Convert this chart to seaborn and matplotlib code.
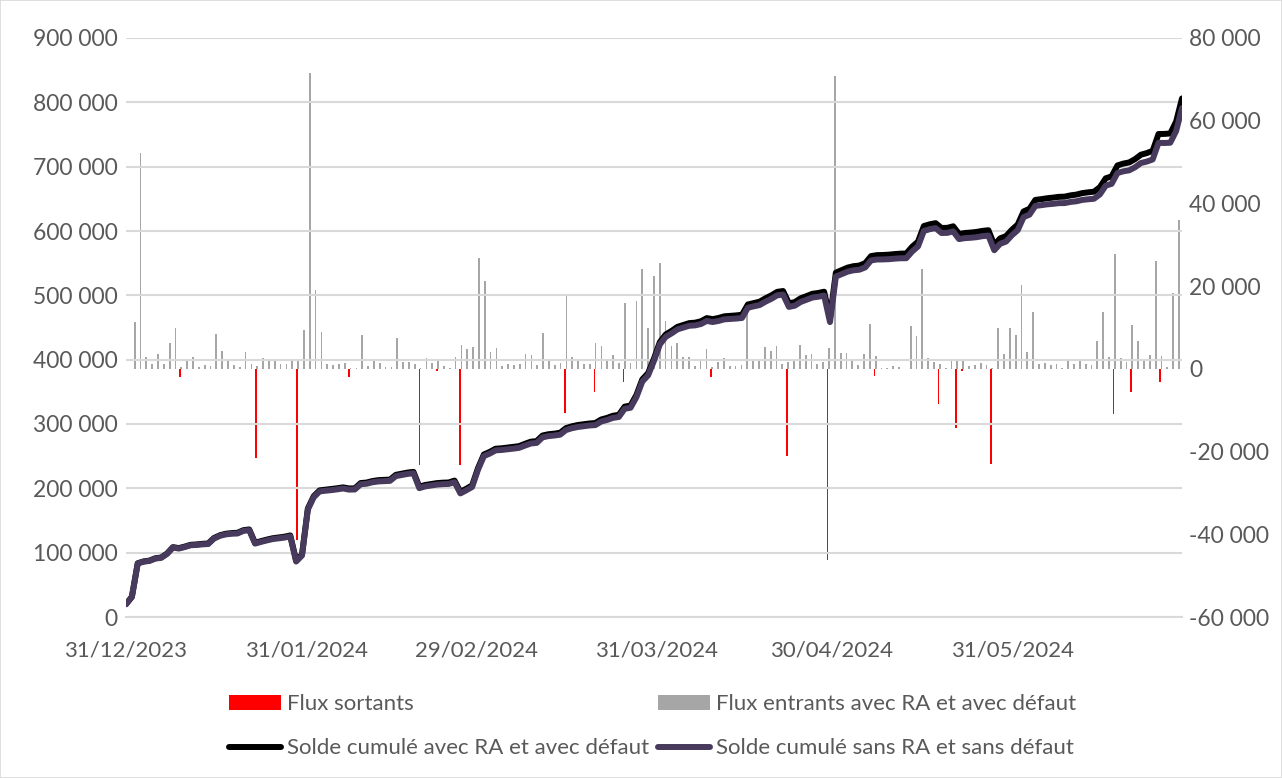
import numpy as np
import pandas as pd
import matplotlib
matplotlib.use("Agg")
import matplotlib.pyplot as plt
from matplotlib.ticker import FuncFormatter, MultipleLocator
from matplotlib.patches import Patch, Rectangle
from matplotlib.lines import Line2D
import seaborn as sns

# ---- data ----
start = pd.Timestamp("2023-12-31")
end = pd.Timestamp("2024-06-29")
flow_dates = pd.date_range("2024-01-01", "2024-06-28")   # one bar per day

entrants = [11440, 52150, 2820, 1290, 3550, 1290, 6170, 9870, 400, 2300,
            2860, 560, 930, 600, 8460, 4230, 2380, 970, 480, 4030,
            1210, 730, 2580, 2420, 2100, 1210, 1210, 1930, 2180, 9430,
            71600, 19100, 9030, 1130, 970, 1210, 1370, 320, 160, 8180,
            800, 2340, 1370, 560, 400, 7410, 1770, 1690, 1130, 160,
            2740, 1370, 2015, 645, 320, 2900, 5800, 4800, 5360, 26800,
            21150, 3990, 5000, 645, 1130, 1050, 1210, 3550, 3390, 890,
            8700, 1930, 890, 1450, 17800, 2820, 2015, 1130, 1210, 6290,
            5560, 2420, 3390, 1370, 16030, 1520, 16500, 24250, 9910, 22560,
            25560, 11680, 5500, 6210, 2820, 2820, 645, 2180, 4760, 400,
            1690, 2580, 645, 645, 890, 15880, 2180, 2015, 5240, 4430,
            5480, 1210, 1690, 1930, 5880, 3300, 3550, 1290, 1770, 5080,
            70700, 3790, 3790, 2015, 890, 3550, 10880, 3140, 160, 320,
            800, 560, 80, 10320, 7900, 24100, 2740, 1690, 1130, 160,
            2340, 2340, 2015, 645, 970, 1530, 970, 320, 9910, 3550,
            9830, 8140, 20300, 4110, 13700, 1210, 1370, 970, 1130, 320,
            1930, 1130, 2260, 1210, 970, 6770, 13700, 2820, 27800, 2740,
            1610, 10560, 6770, 2340, 3390, 26000, 3060, 560, 18300, 35900]

sortants_dates = pd.to_datetime([
    "2024-01-09", "2024-01-22", "2024-01-29", "2024-02-07", "2024-02-19",
    "2024-02-22", "2024-02-26", "2024-03-15", "2024-03-20", "2024-03-25",
    "2024-04-09", "2024-04-22", "2024-04-29", "2024-05-07", "2024-05-18",
    "2024-05-21", "2024-05-22", "2024-05-27", "2024-06-17", "2024-06-20",
    "2024-06-25"])
sortants = [-1900, -21500, -41300, -2000, -23300, -500, -23300, -10600, -5600, -3200,
            -2000, -21000, -46300, -1800, -8600, -14300, -500, -23000, -11000, -5600,
            -3200]

# cumulative balances, 31/12/2023 .. 28/06/2024
solde_avec = [20000, 31400, 83600, 86400, 87700, 91300, 92500, 98700, 108600, 107100,
              109400, 112200, 112800, 113700, 114300, 122800, 127000, 129400, 130400, 130900,
              134900, 136100, 115300, 117900, 120300, 122400, 123600, 124800, 126800, 87700,
              97100, 168700, 187800, 196800, 197900, 198900, 200100, 201500, 199800, 200000,
              208200, 209000, 211300, 212700, 213200, 213600, 221000, 222800, 224500, 225600,
              202500, 205200, 206600, 208100, 208800, 209100, 212000, 194500, 199300, 204600,
              231400, 252600, 256600, 261600, 262200, 263300, 264400, 265600, 269200, 272500,
              273400, 282100, 284100, 285000, 286400, 293600, 296400, 298400, 299600, 300800,
              301500, 307000, 309500, 312800, 314200, 327000, 328600, 345100, 369300, 379200,
              401800, 427400, 439200, 444700, 451000, 453900, 456800, 457500, 459700, 464600,
              463000, 464800, 467400, 468100, 468800, 469800, 485800, 488000, 490100, 495400,
              499900, 505400, 506700, 487500, 489500, 495400, 498800, 502400, 503700, 505600,
              464400, 535300, 539200, 543100, 545300, 546300, 550000, 561000, 562500, 562700,
              563200, 564100, 564800, 565000, 575500, 583500, 607700, 610400, 612200, 604700,
              604900, 607300, 595400, 596900, 597600, 598600, 600200, 601200, 578500, 588500,
              592000, 601900, 610100, 630400, 634500, 648300, 649500, 650900, 651900, 653100,
              653400, 655400, 656600, 658900, 660100, 661100, 668100, 681900, 684900, 701900,
              704800, 706600, 711700, 718600, 721100, 724700, 750800, 750900, 751600, 770100,
              806100]
solde_sans = [19700, 31100, 83200, 86000, 87200, 90800, 92000, 98100, 108000, 106400,
              108700, 111500, 112000, 112900, 113400, 121900, 126100, 128400, 129400, 129800,
              133800, 135000, 114100, 116700, 119000, 121100, 122300, 123400, 125400, 86200,
              95600, 167200, 186200, 195200, 196300, 197200, 198400, 199800, 198000, 198200,
              206300, 207100, 209400, 210700, 211200, 211600, 219000, 220700, 222400, 223500,
              200300, 203000, 204400, 205800, 206500, 206800, 209600, 192100, 196900, 202100,
              228900, 250100, 254000, 259000, 259600, 260600, 261700, 262900, 266400, 269700,
              270600, 279200, 281200, 282100, 283400, 290600, 293400, 295300, 296500, 297700,
              298300, 303800, 306300, 309500, 310900, 323700, 325200, 341700, 365900, 375700,
              398300, 423800, 435500, 440900, 447100, 449900, 452700, 453300, 455400, 460200,
              458500, 460200, 462700, 463300, 463900, 464800, 480700, 482900, 484900, 490100,
              494600, 500000, 501200, 482000, 483900, 489700, 493100, 496600, 497800, 499700,
              458400, 529200, 533000, 536800, 538900, 539800, 543400, 554300, 555700, 555800,
              556200, 557000, 557600, 557700, 568100, 576000, 600100, 602800, 604500, 596900,
              597100, 599400, 587400, 588900, 589500, 590400, 592000, 592900, 570100, 580100,
              583500, 593300, 601300, 621500, 625400, 639000, 640100, 641400, 642200, 643300,
              643400, 645200, 646200, 648300, 649300, 650100, 656900, 670500, 673300, 690100,
              692800, 694300, 699100, 705700, 707900, 711200, 737000, 736800, 737200, 755400,
              791100]

tick_labels = ["31/12/2023", "31/01/2024", "29/02/2024", "31/03/2024", "30/04/2024", "31/05/2024"]

labels = ["Flux sortants", "Flux entrants avec RA et avec défaut",
          "Solde cumulé avec RA et avec défaut", "Solde cumulé sans RA et sans défaut"]

RED = "#ff0000"
GREY = "#a6a6a6"
BLACK = "#000000"
PURPLE = "#473a5c"
TXT = "#595959"
GRID = "#d9d9d9"

# ---- style ----
sns.set_theme(style="white")
plt.rcParams["font.family"] = ["Lato", "DejaVu Sans"]
plt.rcParams["axes.unicode_minus"] = False
FS = 16

def fmt_thousands(v, pos):
    return f"{v:,.0f}".replace(",", " ")

# day offsets from the axis origin
span = (end - start).days
flow_x = np.array((flow_dates - start).days, dtype=float)
out_x = np.array((sortants_dates - start).days, dtype=float)
line_x = np.linspace(0, span, len(solde_avec))
tick_x = [(pd.to_datetime(t, dayfirst=True) - start).days for t in tick_labels]

fig = plt.figure(figsize=(12.82, 7.78), dpi=100)
ax = fig.add_axes([126 / 1282, 1 - 617 / 778, (1182 - 126) / 1282, (617 - 38) / 778])
ax2 = ax.twinx()

# bars (right axis) behind the lines
ax2.bar(flow_x + 0.49, entrants, width=0.3, color=GREY, linewidth=0)
ax2.bar(out_x + 0.27, sortants, width=0.27, color=RED, linewidth=0)
ax2.set_ylim(-60000, 80000)
ax2.yaxis.set_major_locator(MultipleLocator(20000))

# cumulative lines (left axis)
sns.lineplot(x=line_x, y=solde_avec, ax=ax, color=BLACK, linewidth=4.3,
             solid_joinstyle="round", solid_capstyle="round", legend=False)
sns.lineplot(x=line_x, y=solde_sans, ax=ax, color=PURPLE, linewidth=4.3,
             solid_joinstyle="round", solid_capstyle="round", legend=False)
ax.set_ylim(0, 900000)
ax.yaxis.set_major_locator(MultipleLocator(100000))
ax.set_xlim(0, span)
ax.set_xticks(tick_x)
ax.set_xticklabels(tick_labels)

ax.set_zorder(2)
ax2.set_zorder(1)
ax.patch.set_visible(False)

ax.grid(axis="y", color=GRID, linewidth=1.5)
ax.grid(axis="x", visible=False)
ax.set_axisbelow(True)

for s in ["top", "left", "right"]:
    ax.spines[s].set_visible(False)
ax.spines["bottom"].set_color(GRID)
ax.spines["bottom"].set_linewidth(1.5)
for s in ax2.spines.values():
    s.set_visible(False)

ax.yaxis.set_major_formatter(FuncFormatter(fmt_thousands))
ax2.yaxis.set_major_formatter(FuncFormatter(fmt_thousands))
ax.tick_params(axis="y", length=0, pad=6, labelsize=FS + 0.5, labelcolor=TXT)
ax2.tick_params(axis="y", length=0, pad=5, labelsize=FS + 0.5, labelcolor=TXT)
ax.tick_params(axis="x", length=6, width=1.5, color=GRID, pad=11, labelsize=FS, labelcolor=TXT)
ax.set_xlabel("")
ax.set_ylabel("")
ax2.set_ylabel("")

# legend below the plot
handles = [Patch(facecolor=RED, edgecolor="none"),
           Line2D([], [], color=BLACK, linewidth=4.3, solid_capstyle="round"),
           Patch(facecolor=GREY, edgecolor="none"),
           Line2D([], [], color=PURPLE, linewidth=4.3, solid_capstyle="round")]
fig.legend(handles, [labels[0], labels[2], labels[1], labels[3]], ncol=2,
           loc="upper left", bbox_to_anchor=(229 / 1282, 1 - 694 / 778),
           frameon=False, fontsize=FS, labelcolor=TXT, borderpad=0, borderaxespad=0,
           handlelength=2.35, handleheight=0.65, handletextpad=0.25,
           columnspacing=0.4, labelspacing=1.1)

fig.patches.append(Rectangle((0, 0), 1, 1, transform=fig.transFigure, fill=False,
                             edgecolor=GRID, linewidth=1.2))

fig.savefig("out.png", dpi=100, facecolor="white")
